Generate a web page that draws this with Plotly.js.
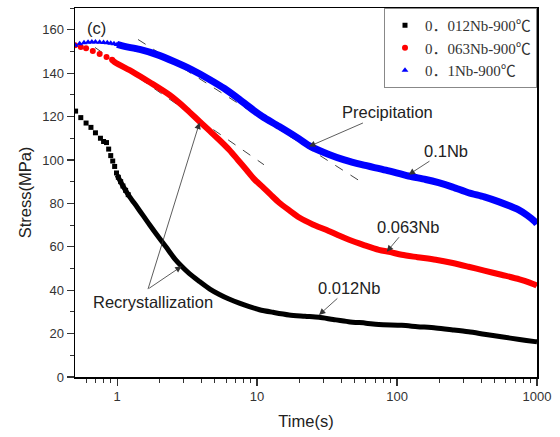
<!DOCTYPE html>
<html>
<head>
<meta charset="utf-8">
<script src="https://cdn.plot.ly/plotly-3.0.1.min.js"></script>
<style>html,body{margin:0;padding:0;background:#fff;}#chart{width:560px;height:437px;}</style>
</head>
<body>
<div id="chart"></div>
<script>
// ---- series names ----
var seriesNames = ["0．012Nb-900℃", "0．063Nb-900℃", "0．1Nb-900℃"];

// ---- 0.012Nb (black): early distinct points and dense part ----
var nb012EarlyT = [0.505, 0.55, 0.60, 0.65, 0.70, 0.76, 0.80, 0.84, 0.87, 0.90, 0.93, 0.96, 0.99, 1.02, 1.06, 1.10, 1.15, 1.20];
var nb012EarlyS = [122.5, 119.5, 117, 115, 112.5, 110, 108.5, 108, 105, 102, 99.5, 97, 94, 92, 90, 88, 86, 84];
var nb012T = [1.0, 1.1, 1.23, 1.4, 1.71, 2.0, 2.26, 2.6, 2.89, 3.3, 3.88, 4.6, 5.38, 6.3, 7.47, 8.8, 10.4, 13, 16.9, 22, 27.7, 35, 45, 60, 74, 108, 140, 189, 250, 324, 420, 556, 750, 970, 1000];
var nb012S = [93, 88, 83, 78, 70, 64, 59.5, 54.2, 51, 47.5, 44, 40.5, 38, 35.9, 34, 32.4, 31, 29.8, 28.6, 28, 27.5, 26.5, 25.5, 24.8, 24.2, 23.8, 23.2, 22.6, 21.7, 20.8, 19.7, 18.5, 17.3, 16.3, 16.2];

// ---- 0.063Nb (red) ----
var nb063EarlyT = [0.5, 0.55, 0.6, 0.67, 0.75, 0.84, 0.92];
var nb063EarlyS = [152.8, 152, 151.4, 150.2, 148.8, 147.4, 146.2];
var nb063T = [0.92, 0.963, 1.29, 1.71, 2.37, 3.13, 3.88, 4.6, 5.38, 6.34, 7.3, 8.38, 9.5, 10.9, 12.5, 14.4, 17, 20, 25, 31.1, 38, 45.4, 58, 74.1, 90, 108, 140, 189, 250, 324, 420, 556, 750, 970, 1000];
var nb063S = [146.2, 145, 140.6, 135.8, 129.9, 123.4, 117.7, 113.3, 109.2, 104.6, 100, 95.5, 91.3, 87.7, 84, 80.3, 76.8, 73.5, 70.3, 67.8, 65.3, 63.2, 60.8, 58.6, 57.5, 56.3, 55.2, 54, 52.5, 50.8, 49, 47.1, 45, 42.5, 42];

// ---- 0.1Nb (blue) ----
var nb1EarlyT = [0.5, 0.54, 0.58, 0.62, 0.66, 0.70, 0.75, 0.80, 0.85, 0.90, 0.95, 1.0, 1.06, 1.12, 1.2, 1.3, 1.4];
var nb1EarlyS = [152.8, 153.5, 154, 154.2, 154.3, 154.3, 154.2, 154.1, 154, 153.8, 153.5, 153.2, 152.8, 152.3, 151.8, 151.2, 150.6];
var nb1T = [1.0, 1.13, 1.45, 1.95, 2.57, 3.40, 4.57, 5.84, 7.47, 9.55, 10.9, 14.4, 19, 23.5, 32.6, 42, 56.1, 83.2, 121, 160, 198, 250, 324, 420, 530, 735, 850, 970, 1000];
var nb1S = [153.2, 152.3, 150.9, 148.4, 145.2, 141.6, 137.1, 132.9, 127.9, 122.6, 120, 115.4, 110.6, 106.6, 102.5, 100, 97.8, 95.3, 92.6, 91, 89.5, 87.5, 84.9, 83, 80.8, 77.1, 74.5, 71.5, 70.5];

// ---- tangent (dashed) lines ----
var tangentRedT = [0.695, 11.2];
var tangentRedS = [151.8, 97.8];
var tangentBlueT = [1.41, 59.6];
var tangentBlueS = [155.5, 88.6];

// ---- axis ticks ----
var xTickVals = [1, 10, 100, 1000];
var xTickText = ["1", "10", "100", "1000"];
var xMinorVals = [0.6, 0.7, 0.8, 0.9, 2, 3, 4, 5, 6, 7, 8, 9, 20, 30, 40, 50, 60, 70, 80, 90, 200, 300, 400, 500, 600, 700, 800, 900];

// ---- annotation texts ----
var labelPrecip = "Precipitation";
var labelRecryst = "Recrystallization";
var label01 = "0.1Nb";
var label063 = "0.063Nb";
var label012 = "0.012Nb";
var panelLabel = "(c)";

var colors = ["#000000", "#ff0000", "#0000ff"];

var traces = [
  {x: tangentRedT, y: tangentRedS, mode: "lines", line: {color: "#444", width: 1, dash: "dash"}, showlegend: false, hoverinfo: "skip"},
  {x: tangentBlueT, y: tangentBlueS, mode: "lines", line: {color: "#444", width: 1, dash: "dash"}, showlegend: false, hoverinfo: "skip"},
  {x: nb1T, y: nb1S, mode: "lines", line: {color: colors[2], width: 7, shape: "spline", smoothing: 0.8}, showlegend: false},
  {x: nb063T, y: nb063S, mode: "lines", line: {color: colors[1], width: 6, shape: "spline", smoothing: 0.8}, showlegend: false},
  {x: nb012T, y: nb012S, mode: "lines", line: {color: colors[0], width: 5, shape: "spline", smoothing: 0.8}, showlegend: false},
  {x: nb012EarlyT, y: nb012EarlyS, mode: "markers", name: seriesNames[0], marker: {color: colors[0], symbol: "square", size: 5}},
  {x: nb063EarlyT, y: nb063EarlyS, mode: "markers", name: seriesNames[1], marker: {color: colors[1], symbol: "circle", size: 6}},
  {x: nb1EarlyT, y: nb1EarlyS, mode: "markers", name: seriesNames[2], marker: {color: colors[2], symbol: "triangle-up", size: 6}}
];

var annFont = {family: "Liberation Sans, Arial, sans-serif", size: 16.5, color: "#222"};
var arrowStyle = {arrowhead: 2, arrowsize: 1.6, arrowwidth: 0.8, arrowcolor: "#333"};
function arrowAnn(text, tx, ty, ax, ay) {
  return Object.assign({text: text, x: Math.log10(tx), y: ty, xref: "x", yref: "y", ax: ax, ay: ay, showarrow: true, font: annFont}, arrowStyle);
}

var layout = {
  width: 560, height: 437,
  margin: {l: 75, r: 23, t: 8, b: 60},
  paper_bgcolor: "#fff", plot_bgcolor: "#fff",
  showlegend: true,
  legend: {
    x: 1, y: 1, xanchor: "right", yanchor: "top",
    bgcolor: "#fff", bordercolor: "#888", borderwidth: 1,
    font: {family: "Liberation Serif, 'Noto Sans CJK SC', serif", size: 15, color: "#333"},
    tracegroupgap: 0, itemsizing: "trace"
  },
  xaxis: {
    type: "log", range: [-0.30103, 3],
    tickmode: "array", tickvals: xTickVals, ticktext: xTickText,
    ticks: "outside", ticklen: 7, tickwidth: 1.2, tickcolor: "#333",
    minor: {tickmode: "array", tickvals: xMinorVals, ticks: "outside", ticklen: 4, tickwidth: 1, tickcolor: "#333"},
    showline: true, linecolor: "#000", linewidth: 1.5, mirror: true,
    showgrid: false, zeroline: false,
    tickfont: {family: "Liberation Sans, Arial, sans-serif", size: 13, color: "#333"},
    title: {text: "Time(s)", font: {family: "Liberation Sans, Arial, sans-serif", size: 16.5, color: "#222"}, standoff: 12}
  },
  yaxis: {
    range: [0, 170], dtick: 20, tick0: 0,
    ticks: "outside", ticklen: 7, tickwidth: 1.2, tickcolor: "#333",
    minor: {dtick: 10, ticks: "outside", ticklen: 4, tickwidth: 1, tickcolor: "#333"},
    showline: true, linecolor: "#000", linewidth: 1.5, mirror: true,
    showgrid: false, zeroline: false,
    tickfont: {family: "Liberation Sans, Arial, sans-serif", size: 13, color: "#333"},
    title: {text: "Stress(MPa)", font: {family: "Liberation Sans, Arial, sans-serif", size: 16.5, color: "#222"}, standoff: 6}
  },
  annotations: [
    {text: panelLabel, xref: "paper", yref: "paper", x: 0.047, y: 0.946, xanchor: "center", yanchor: "middle", showarrow: false, font: annFont},
    arrowAnn(labelPrecip, 23.5, 106.2, 78, -34),
    arrowAnn(label01, 121, 93.2, 37, -24),
    arrowAnn(label063, 84.5, 57.7, 21, -25),
    arrowAnn(label012, 27.7, 28.6, 30, -27),
    {text: labelRecryst, x: Math.log10(1.8), y: 34.6, xref: "x", yref: "y", showarrow: false, font: annFont},
    arrowAnn("", 2.89, 51, -34, 23),
    arrowAnn("", 3.88, 117.2, -52, 168)
  ]
};

Plotly.newPlot("chart", traces, layout, {displayModeBar: false, staticPlot: true});
</script>
</body>
</html>
